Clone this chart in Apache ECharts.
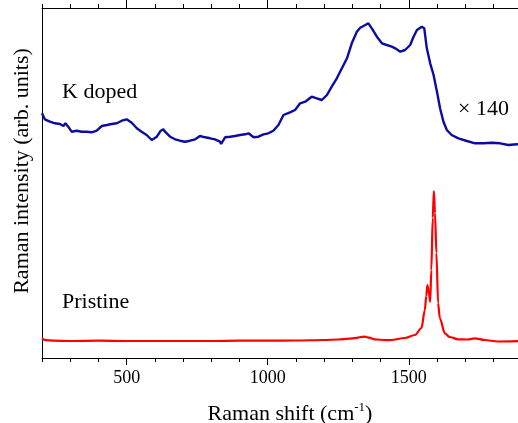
<!DOCTYPE html>
<html><head><meta charset="utf-8">
<script src="https://cdn.jsdelivr.net/npm/echarts@6/dist/echarts.min.js"></script>
<style>html,body{margin:0;padding:0;background:#fff}#c{width:518px;height:423px}</style>
</head><body><div id="c"></div>
<script>
// Raman shift (cm-1) and intensity (arb. units)
const kX = [200,210,228,246,264,276,283,293,305,323,341,358,376,394,412,430,447,465,483,500,518,536,553,571,589,607,621,630,636,654,672,689,707,725,743,760,778,796,813,831,835,849,867,884,902,920,932,950,967,985,1002,1020,1038,1044,1056,1062,1079,1097,1115,1133,1156,1174,1192,1210,1227,1245,1263,1281,1298,1316,1328,1346,1357,1369,1387,1405,1422,1440,1452,1470,1487,1505,1517,1529,1546,1555,1564,1576,1588,1600,1611,1623,1635,1652,1676,1706,1735,1765,1795,1824,1853,1883,1900];
const kY = [244.7,238.7,236.3,234.7,234,232,234.7,231.3,226.3,227.3,226.3,226.3,225.7,227.3,232,233,234,234.7,237.3,238.7,235.3,229.7,226.3,223,218,221.3,227.3,228.7,226.3,221.3,218.7,217.3,216.3,217.3,218.7,222,220.7,219.7,218.7,216.3,214,220.7,221.3,222,223,223.7,224.7,220.7,221.3,223.7,224.7,227.3,233,234.7,243,243,245.7,248,254.7,256.3,261.3,259.7,258,263,271.3,279.7,289.7,299.7,314.7,326.3,330.3,333,334.7,329.7,321.3,314.7,313,311.3,309.7,306.3,308,313,321.3,328,331.3,329.7,309.7,294.7,283,266.3,249.7,236.3,228,223,219.7,217,214.7,214.7,215.3,214.7,213,213.7,213.5];
const pX = [200,215,240,300,400,500,600,700,800,900,1000,1100,1200,1250,1290,1309,1330,1344,1360,1379,1420,1438,1486,1522,1545,1557,1562,1566,1571,1576,1580,1585,1589,1593,1598,1604,1610,1628,1645,1675,1710,1734,1769,1816,1900];
const pY = [19.5,17.8,17.3,17,17.3,17,17,17,17,17.3,17.3,17.5,18,18.5,19.3,19.8,21,21.3,20.3,18.7,17.8,18,20,23,30,48,62,73,66,56.3,88,140,167,145,105,55,40,24.7,21,18.7,18.5,19.7,18,16.5,17];
const xTickLabels = [500,1000,1500];
const labels = {doped:'K doped', pristine:'Pristine', factor:'× 140'};

const chart = echarts.init(document.getElementById('c'), null, {renderer:'canvas'});
const F = 'Liberation Serif';
const gridRect = {left:42, width:479.6, top:8, bottom:65, outerBoundsMode:'none', containLabel:false};
chart.setOption({
  animation:false,
  grid:[Object.assign({}, gridRect), Object.assign({}, gridRect)],
  xAxis:[
    {gridIndex:0, type:'value', position:'bottom', min:200, max:1900, interval:100,
     axisLine:{show:true, onZero:false, lineStyle:{color:'#000', width:1}},
     axisTick:{show:true, inside:false, length:4, lineStyle:{color:'#000'}},
     axisLabel:{fontFamily:F, fontSize:18, color:'#000', margin:11,
       formatter:v => xTickLabels.includes(v) ? String(v) : ''},
     splitLine:{show:false}},
    {gridIndex:0, type:'value', position:'top', min:200, max:1900, interval:100,
     axisLine:{show:true, onZero:false, lineStyle:{color:'#000', width:1}},
     axisTick:{show:true, inside:false, length:4, lineStyle:{color:'#000'}},
     axisLabel:{show:false}, splitLine:{show:false}},
    {gridIndex:1, type:'value', position:'bottom', min:200, max:1900,
     axisLine:{show:false}, axisLabel:{show:false}, splitLine:{show:false},
     axisTick:{show:true, inside:false, length:7, customValues:xTickLabels, lineStyle:{color:'#000'}}},
    {gridIndex:1, type:'value', position:'top', min:200, max:1900,
     axisLine:{show:false}, axisLabel:{show:false}, splitLine:{show:false},
     axisTick:{show:true, inside:false, length:8, customValues:xTickLabels, lineStyle:{color:'#000'}}}
  ],
  yAxis:[
    {gridIndex:0, type:'value', min:0, max:350, axisLine:{show:true, lineStyle:{color:'#000', width:1}},
     axisTick:{show:false}, axisLabel:{show:false}, splitLine:{show:false}},
    {gridIndex:1, type:'value', min:0, max:350, show:false}
  ],
  series:[
    {type:'line', xAxisIndex:0, yAxisIndex:0, data:kX.map((x,i)=>[x,kY[i]]), showSymbol:false,
     lineStyle:{color:'#0c0c9e', width:2.4}, smooth:false},
    {type:'line', xAxisIndex:0, yAxisIndex:0, data:pX.map((x,i)=>[x,pY[i]]), showSymbol:false,
     lineStyle:{color:'#ff0000', width:2.2}, smooth:0.3, smoothMonotone:'x'}
  ],
  graphic:[
    {type:'text', left:62, top:81, style:{text:labels.doped, font:'22px "Liberation Serif"', fill:'#000'}},
    {type:'text', left:62, top:291, style:{text:labels.pristine, font:'22px "Liberation Serif"', fill:'#000'}},
    {type:'text', left:458, top:98, style:{text:labels.factor, font:'22px "Liberation Serif"', fill:'#000'}},
    {type:'text', x:290, y:414, style:{text:'{a|Raman shift (cm}{s|-1}{a|)}', align:'center', verticalAlign:'middle',
      rich:{a:{fontFamily:F, fontSize:22, color:'#000'}, s:{fontFamily:F, fontSize:13, color:'#000', padding:[0,0,12,0]}}}},
    {type:'text', x:22, y:171, rotation:Math.PI/2, style:{text:'Raman intensity (arb. units)', align:'center', verticalAlign:'middle',
      font:'22px "Liberation Serif"', fill:'#000'}}
  ]
});
</script></body></html>
